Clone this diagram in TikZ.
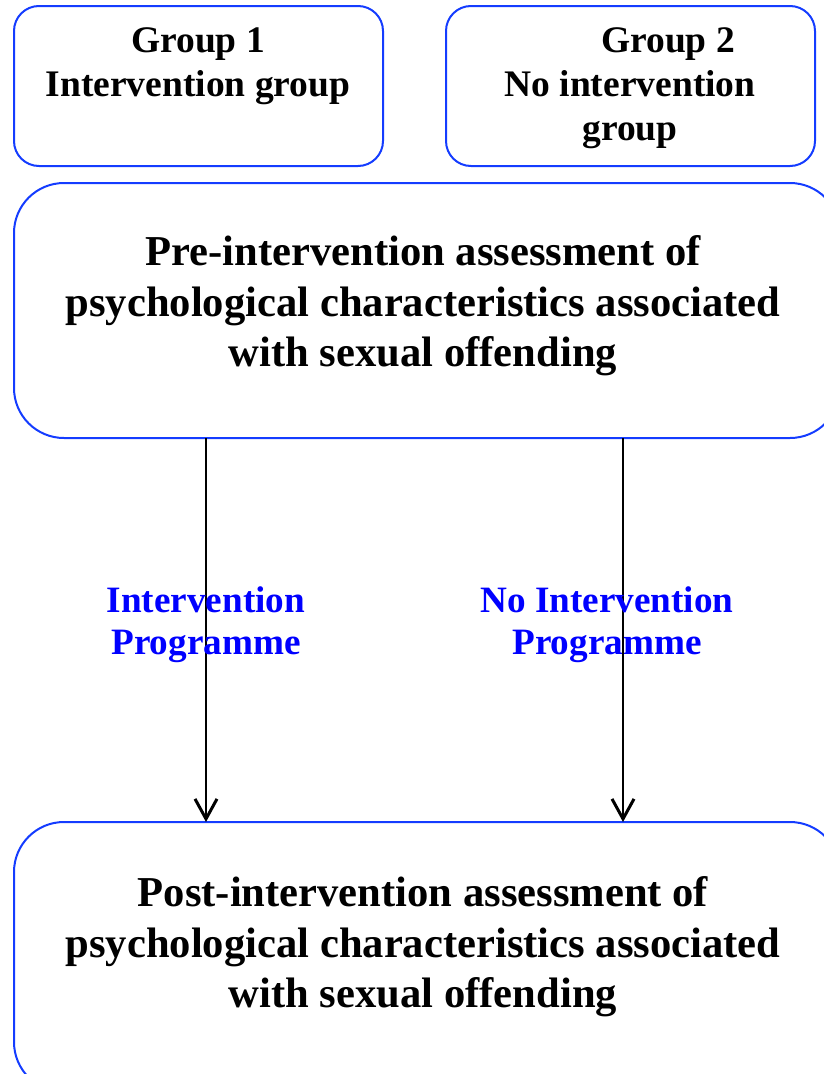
\documentclass[tikz,border=0pt]{standalone}
\usepackage{fontspec}
\setmainfont{Liberation Serif}
\usetikzlibrary{arrows.meta}
\definecolor{boxblue}{RGB}{20,60,255}
\definecolor{lblblue}{RGB}{0,0,255}
\tikzset{
  x=1pt,y=-1pt,
  gbox/.style={draw=boxblue,line width=2pt,rounded corners=25pt,inner sep=0pt,outer sep=0pt},
  bigbox/.style={draw=boxblue,line width=2pt,rounded corners=50pt,inner sep=0pt,outer sep=0pt},
  smalltext/.style={align=center,font=\fontsize{37.5}{44}\selectfont\bfseries,inner sep=0pt},
  bigtext/.style={align=center,font=\fontsize{42.6}{50.5}\selectfont\bfseries,inner sep=0pt},
  lbltext/.style={align=center,text=lblblue,font=\fontsize{37.2}{42}\selectfont\bfseries,inner sep=0pt},
  arr/.style={draw=black,line width=1.3pt,-{Straight Barb[length=20pt,width=22pt,line width=3pt]}}
}
\begin{document}
\begin{tikzpicture}
\useasboundingbox (0,0) rectangle (823,1074);
\node[gbox,minimum width=369pt,minimum height=160pt] (g1) at (198.5,86) {};
\node[gbox,minimum width=369pt,minimum height=160pt] (g2) at (630.5,86) {};
\node[bigbox,minimum width=826pt,minimum height=255pt] (pre) at (427,310.5) {};
\node[bigbox,minimum width=826pt,minimum height=270pt] (post) at (427,957) {};
\node[smalltext] (g1t) at (198,66) {Group 1\\Intervention group};
\node[smalltext] (g2t) at (630,88.5) {\hspace*{76pt}Group 2\\No intervention\\group};
\node[bigtext] (pret) at (423,306) {Pre-intervention assessment of\\psychological characteristics associated\\with sexual offending};
\node[bigtext] (postt) at (423,947) {Post-intervention assessment of\\psychological characteristics associated\\with sexual offending};
\coordinate (a1) at (206,0);
\coordinate (a2) at (623,0);
\draw[arr] (pre.south -| a1) -- (post.north -| a1);
\draw[arr] (pre.south -| a2) -- (post.north -| a2);
\node[lbltext] (l1) at (206,625) {Intervention\\Programme};
\node[lbltext] (l2) at (607,625) {No Intervention\\Programme};
\end{tikzpicture}
\end{document}
